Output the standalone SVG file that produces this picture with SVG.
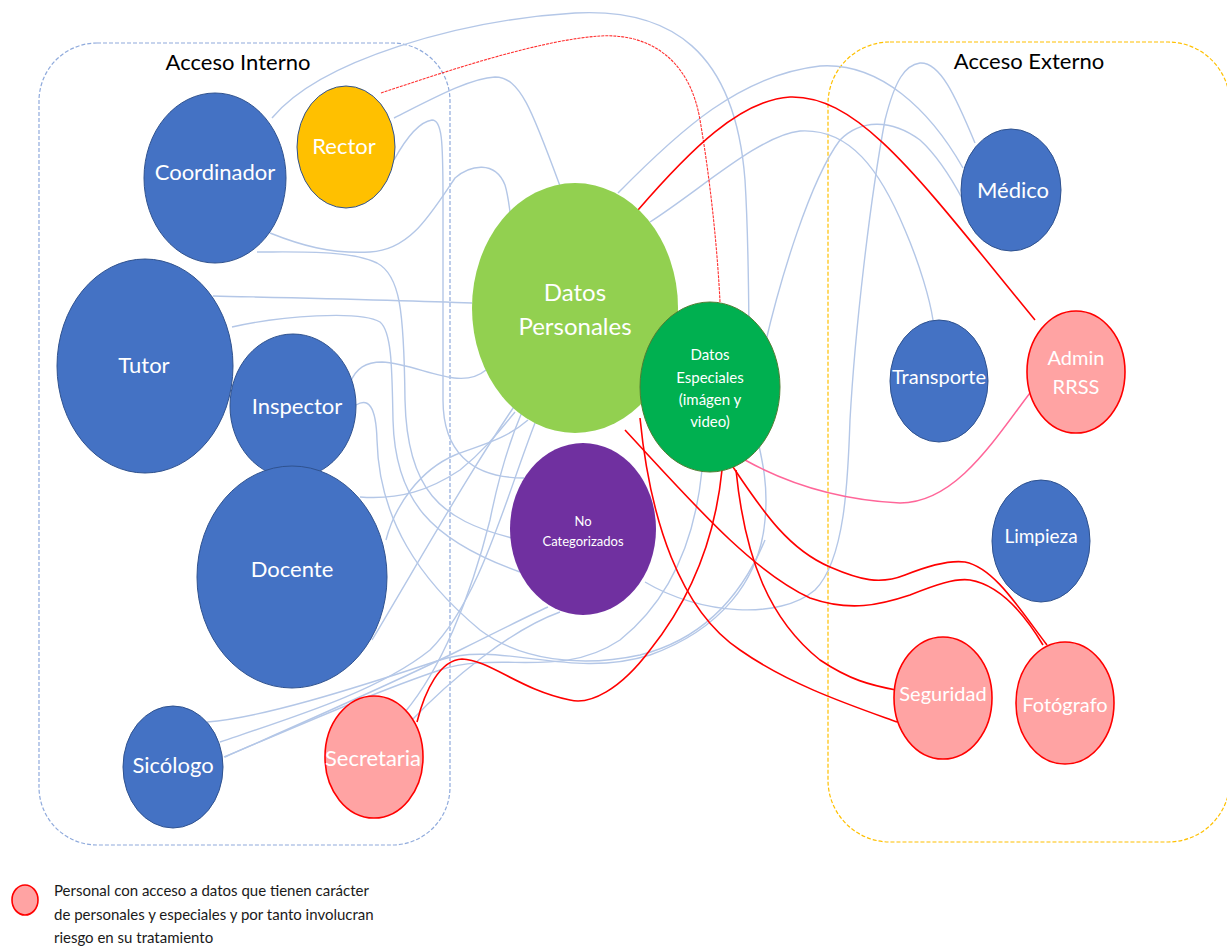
<svg xmlns="http://www.w3.org/2000/svg" width="1227" height="947" viewBox="0 0 1227 947">
<style>
.frame{fill:none;stroke-width:1.2;stroke-dasharray:4 2}
.blue{fill:none;stroke:#B4C7E7;stroke-width:1.4}
.red{fill:none;stroke:#FF0000;stroke-width:1.6}
.redthin{fill:none;stroke:#FF3030;stroke-width:1.1}
.pink{fill:none;stroke:#FF6699;stroke-width:1.5}
.bn{fill:#4472C4;stroke:#2F528F;stroke-width:1}
.pn{fill:#FFA3A3;stroke:#FF0000;stroke-width:1.6}
.lbl{font-family:Lato,"Open Sans",sans-serif;fill:#FFFFFF;text-anchor:middle}
.title{font-family:Lato,"Open Sans",sans-serif;fill:#000000;font-size:22px;text-anchor:middle}
.leg{font-family:Lato,"Open Sans",sans-serif;fill:#1a1a1a;font-size:15px}
</style>
<rect width="1227" height="947" fill="#FFFFFF"/>
<g id="acceso-interno">
<rect class="frame" x="39" y="43" width="411" height="802" rx="58" stroke="#8FAADC"/>
<text class="title" x="238" y="70">Acceso Interno</text>
</g>
<g id="acceso-externo">
<rect class="frame" x="828" y="42" width="402" height="800" rx="62" stroke="#FFC000" stroke-width="1.5"/>
<text class="title" x="1029" y="69">Acceso Externo</text>
</g>
<g id="connectors">
<path class="blue" d="M272,118 C320,60 460,20 575,13 C670,8 735,50 745,180 C750,260 748,330 750,400 C755,440 770,470 765,520 C760,580 720,630 650,655 C570,680 500,640 440,660 C350,690 260,718 207,722"/>
<path class="blue" d="M394,118 C430,100 470,78 495,77 C520,77 532,110 560,186"/>
<path class="blue" d="M394,160 C405,140 418,122 432,120 C442,120 443,140 443,200 L443,400 C443,450 470,478 524,478"/>
<path class="blue" d="M270,233 C300,245 330,254 370,252 C410,250 430,215 455,178 C470,165 495,160 505,185 C508,195 509,205 510,212"/>
<path class="blue" d="M257,252 C300,252 350,250 377,263 C400,275 404,310 405,400 C407,490 440,520 512,538"/>
<path class="blue" d="M213,296 C300,298 400,300 472,303"/>
<path class="blue" d="M232,327 C280,316 360,310 380,322 C392,332 392,370 393,420 C395,500 430,540 520,572"/>
<path class="blue" d="M350,383 C356,368 366,362 382,362 C420,364 460,392 486,370"/>
<path class="blue" d="M356,405 C368,398 376,405 377,440 C379,520 420,580 480,630 C520,660 580,668 640,655 C700,640 740,600 765,540"/>
<path class="blue" d="M360,497 C400,500 430,490 460,470 C485,450 500,430 515,412"/>
<path class="blue" d="M386,540 C395,505 420,470 455,455 C480,445 505,440 528,420"/>
<path class="blue" d="M372,640 C420,560 470,470 522,395"/>
<path class="blue" d="M220,742 C300,715 380,690 430,650 C480,600 505,500 535,423"/>
<path class="blue" d="M225,757 C320,715 400,680 460,650 C500,630 530,615 548,607"/>
<path class="blue" d="M405,712 C440,670 470,600 490,520 C500,470 510,440 522,412"/>
<path class="blue" d="M410,722 C450,680 510,630 560,612"/>
<path class="blue" d="M618,193 C680,130 740,75 820,66 C880,62 930,110 963,168"/>
<path class="blue" d="M650,222 C700,190 760,135 800,131 C850,128 880,170 905,230 C920,265 930,300 933,320"/>
<path class="blue" d="M765,345 C780,280 810,180 840,140 C860,120 890,118 920,140 C940,158 955,185 963,200"/>
<path class="blue" d="M645,582 C700,615 780,620 815,590 C845,560 848,480 850,420 C855,330 870,200 885,120 C895,80 905,65 920,63 C940,62 955,95 975,143"/>
<path class="blue" d="M702,470 C695,540 670,600 620,640 C560,680 500,650 440,670 C380,690 300,725 224,757"/>
<path class="redthin" stroke-dasharray="3 1" d="M381,93 C450,70 540,40 600,36 C650,33 690,60 700,120 C712,190 718,260 720,302"/>
<path class="red" d="M638,210 C690,150 740,100 790,97 C860,95 920,180 1035,320"/>
<path class="red" d="M722,470 C715,540 690,600 650,650 C620,690 590,705 570,700 C520,690 490,660 462,659 C440,660 425,690 417,722"/>
<path class="red" d="M733,467 C765,515 790,550 830,567 C860,580 880,585 905,575 C930,565 950,560 965,562 C995,568 1020,610 1047,645"/>
<path class="red" d="M625,430 C690,500 750,570 810,598 C850,612 880,605 910,595 C935,585 955,578 970,580 C1000,585 1025,615 1043,645"/>
<path class="red" d="M736,470 C745,560 770,620 820,660 C850,680 870,685 896,690"/>
<path class="red" d="M640,418 C650,520 680,610 740,650 C790,685 850,705 897,722"/>
<path class="pink" d="M745,460 C790,485 840,500 900,503 C960,503 1000,430 1040,380"/>
</g>
<g id="coordinador"><ellipse class="bn" cx="215" cy="178" rx="71" ry="85"/><text class="lbl" x="215" y="180" font-size="22">Coordinador</text></g>
<g id="rector"><ellipse cx="346" cy="147" rx="49" ry="61" fill="#FFC000" stroke="#2F528F" stroke-width="1"/><text class="lbl" x="344" y="154" font-size="22">Rector</text></g>
<g id="tutor"><ellipse class="bn" cx="145" cy="366" rx="88" ry="107"/><text class="lbl" x="144" y="373" font-size="22">Tutor</text></g>
<g id="inspector"><ellipse class="bn" cx="293" cy="406" rx="63" ry="72"/><text class="lbl" x="297" y="414" font-size="22">Inspector</text></g>
<g id="docente"><ellipse class="bn" cx="292" cy="577" rx="95" ry="111"/><text class="lbl" x="292" y="577" font-size="22">Docente</text></g>
<g id="sicologo"><ellipse class="bn" cx="173" cy="767" rx="50" ry="61"/><text class="lbl" x="173" y="773" font-size="22">Sicólogo</text></g>
<g id="secretaria"><ellipse class="pn" cx="374" cy="757" rx="49" ry="61"/><text class="lbl" x="373" y="766" font-size="22">Secretaria</text></g>
<g id="datos-personales"><ellipse cx="575" cy="308" rx="103" ry="125" fill="#92D050"/><text class="lbl" x="575" y="301" font-size="24">Datos</text><text class="lbl" x="575" y="335" font-size="24">Personales</text></g>
<g id="datos-especiales"><ellipse cx="710" cy="387" rx="70" ry="85" fill="#00B050" stroke="#507E32" stroke-width="1"/><text class="lbl" x="710" y="360" font-size="15">Datos</text><text class="lbl" x="710" y="383" font-size="15">Especiales</text><text class="lbl" x="710" y="405" font-size="15">(imágen y</text><text class="lbl" x="710" y="427" font-size="15">video)</text></g>
<g id="no-categorizados"><ellipse cx="583" cy="529" rx="73" ry="86" fill="#7030A0"/><text class="lbl" x="583" y="526" font-size="13">No</text><text class="lbl" x="583" y="546" font-size="13">Categorizados</text></g>
<g id="medico"><ellipse class="bn" cx="1011" cy="190" rx="50" ry="61"/><text class="lbl" x="1013" y="198" font-size="22">Médico</text></g>
<g id="transporte"><ellipse class="bn" cx="939" cy="381" rx="49" ry="61"/><text class="lbl" x="939" y="384" font-size="20">Transporte</text></g>
<g id="admin-rrss"><ellipse class="pn" cx="1076" cy="372" rx="49" ry="61"/><text class="lbl" x="1076" y="365" font-size="20">Admin</text><text class="lbl" x="1076" y="394" font-size="20">RRSS</text></g>
<g id="limpieza"><ellipse class="bn" cx="1041" cy="541" rx="49" ry="61"/><text class="lbl" x="1041" y="543" font-size="19">Limpieza</text></g>
<g id="seguridad"><ellipse class="pn" cx="943" cy="698" rx="49" ry="61"/><text class="lbl" x="943" y="701" font-size="20">Seguridad</text></g>
<g id="fotografo"><ellipse class="pn" cx="1065" cy="703" rx="49" ry="61"/><text class="lbl" x="1065" y="712" font-size="20">Fotógrafo</text></g>
<g id="leyenda">
<ellipse class="pn" cx="25" cy="900" rx="13" ry="15"/>
<text class="leg" x="54" y="896">Personal con acceso a datos que tienen carácter</text>
<text class="leg" x="54" y="920">de personales y especiales y por tanto involucran</text>
<text class="leg" x="54" y="943">riesgo en su tratamiento</text>
</g>
</svg>
